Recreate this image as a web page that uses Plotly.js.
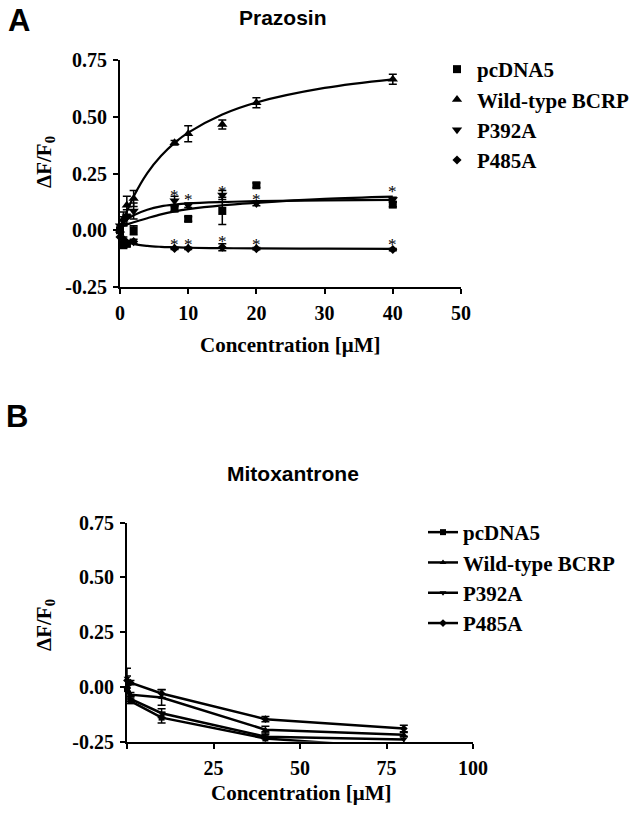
<!DOCTYPE html>
<html>
<head>
<meta charset="utf-8">
<script src="https://cdn.plot.ly/plotly-3.0.1.min.js"></script>
<style>html,body{margin:0;padding:0;background:#fff;}#chart{width:640px;height:815px;}</style>
</head>
<body>
<div id="chart"></div>
<script>
// ---------- Panel A: Prazosin ----------
const seriesNames = ["pcDNA5", "Wild-type BCRP", "P392A", "P485A"];
const concA = [0, 0.5, 1, 2, 8, 10, 15, 20, 40];
const pcdna5A = [0.0, -0.066, -0.06, 0.0, 0.095, 0.05, 0.085, 0.198, 0.113];
const pcdna5AErr = [0.01, 0.01, 0.01, 0.02, 0.01, 0.01, 0.06, 0.01, 0.01];
const wildA = [0.0, 0.05, 0.11, 0.14, 0.385, 0.425, 0.466, 0.562, 0.665];
const wildAErr = [0.01, 0.03, 0.04, 0.035, 0.01, 0.035, 0.02, 0.022, 0.022];
const p392A_A = [0.02, 0.04, 0.06, 0.085, 0.13, 0.11, 0.155, 0.118, 0.135];
const p392A_AErr = [0.01, 0.02, 0.03, 0.035, 0.02, 0.01, 0.02, 0.01, 0.01];
const p485A_A = [-0.03, -0.04, -0.055, -0.05, -0.08, -0.08, -0.075, -0.081, -0.085];
const p485A_AErr = [0.01, 0.01, 0.01, 0.01, 0.005, 0.005, 0.015, 0.005, 0.005];

// fitted curves
const fitX = [0, 0.5, 1, 2, 4, 6, 8, 10, 15, 20, 30, 40];
const fitWild = [0, 0.043, 0.082, 0.149, 0.252, 0.327, 0.385, 0.430, 0.510, 0.563, 0.627, 0.665];
const fitPcdna5 = [0.015, 0.02, 0.025, 0.035, 0.053, 0.07, 0.083, 0.093, 0.110, 0.121, 0.138, 0.148];
const fitP392A = [0.02, 0.035, 0.047, 0.066, 0.09, 0.105, 0.113, 0.118, 0.124, 0.128, 0.132, 0.134];
const fitP485A = [-0.02, -0.037, -0.048, -0.06, -0.069, -0.073, -0.075, -0.077, -0.079, -0.08, -0.081, -0.082];

// significance stars
const starX = [8, 10, 15, 20, 40];
const starUpperY = [0.169, 0.152, 0.187, 0.152, 0.187];
const starLowerY = [-0.044, -0.044, -0.03, -0.044, -0.044];

const ticksA_x = [0, 10, 20, 30, 40, 50];
const ticksY = [-0.25, 0.0, 0.25, 0.5, 0.75];
const ticksY_text = ["-0.25", "0.00", "0.25", "0.50", "0.75"];

// ---------- Panel B: Mitoxantrone ----------
const concB = [0, 1, 10, 40, 80];
const pcdna5B = [-0.01, -0.065, -0.14, -0.235, -0.28];
const pcdna5BErr = [0.02, 0.01, 0.025, 0.03, 0.01];
const wildB = [0.0, -0.035, -0.048, -0.195, -0.218];
const wildBErr = [0.02, 0.01, 0.035, 0.015, 0.01];
const p392A_B = [0.04, -0.055, -0.12, -0.227, -0.24];
const p392A_BErr = [0.045, 0.01, 0.02, 0.01, 0.015];
const p485A_B = [0.03, 0.02, -0.03, -0.147, -0.19];
const p485A_BErr = [0.02, 0.01, 0.018, 0.012, 0.015];
const ticksB_x = [0, 25, 50, 75, 100];
const ticksB_text = ["", "25", "50", "75", "100"];

// ---------- styling helpers ----------
const W = 640, H = 815;
const px = v => v / W;
const py = v => 1 - v / H;
const serif = {family: "Liberation Serif, Times New Roman, serif", size: 20, color: "#000", weight: "bold"};
const sans = {family: "Liberation Sans, Arial, sans-serif", color: "#000", weight: "bold"};
const symbols = ["square", "triangle-up", "triangle-down", "diamond"];
const msize = [8, 9, 9, 7];

function errObj(arr) {
  return {type: "data", array: arr, visible: true, color: "#000", thickness: 1.5, width: 4};
}

const traces = [];
const aY = [pcdna5A, wildA, p392A_A, p485A_A];
const aE = [pcdna5AErr, wildAErr, p392A_AErr, p485A_AErr];
const aFit = [fitPcdna5, fitWild, fitP392A, fitP485A];

for (let i = 0; i < 4; i++) {
  traces.push({
    x: fitX, y: aFit[i], xaxis: "x", yaxis: "y", mode: "lines",
    line: {color: "#000", width: 2.2, shape: "spline"},
    showlegend: false, hoverinfo: "skip", cliponaxis: false
  });
}
for (let i = 0; i < 4; i++) {
  traces.push({
    x: concA, y: aY[i], xaxis: "x", yaxis: "y", mode: "markers",
    name: seriesNames[i], legend: "legend",
    marker: {symbol: symbols[i], size: msize[i], color: "#000"},
    error_y: errObj(aE[i]), cliponaxis: false
  });
}

const bY = [pcdna5B, wildB, p392A_B, p485A_B];
const bE = [pcdna5BErr, wildBErr, p392A_BErr, p485A_BErr];
for (let i = 0; i < 4; i++) {
  traces.push({
    x: concB, y: bY[i], xaxis: "x2", yaxis: "y2", mode: "lines+markers",
    name: seriesNames[i], legend: "legend2",
    line: {color: "#000", width: 2.5},
    marker: {symbol: symbols[i], size: 6, color: "#000"},
    error_y: errObj(bE[i]), cliponaxis: false
  });
}

const axisCommon = {
  showline: true, linecolor: "#000", linewidth: 2, ticks: "outside",
  ticklen: 5, tickwidth: 2, tickcolor: "#000", showgrid: false, zeroline: false,
  tickfont: serif, fixedrange: true, ticklabelstandoff: 2
};

const annotations = [];
const starFont = {family: "Liberation Serif, Times New Roman, serif", size: 17, color: "#000000"};
starX.forEach((x, i) => {
  annotations.push({x: x, y: starUpperY[i], xref: "x", yref: "y", text: "*", showarrow: false,
    xanchor: "center", yanchor: "middle", font: starFont, yshift: -4});
  annotations.push({x: x, y: starLowerY[i], xref: "x", yref: "y", text: "*", showarrow: false,
    xanchor: "center", yanchor: "middle", font: starFont, yshift: -4});
});
function label(x, y, text, font, extra) {
  return Object.assign({x: px(x), y: py(y), xref: "paper", yref: "paper", text: text,
    showarrow: false, xanchor: "center", yanchor: "middle", font: font}, extra || {});
}
annotations.push(
  label(19, 21, "A", Object.assign({}, sans, {size: 31})),
  label(17, 416, "B", Object.assign({}, sans, {size: 31})),
  label(283, 18, "Prazosin", Object.assign({}, sans, {size: 21})),
  label(293, 473, "Mitoxantrone", Object.assign({}, sans, {size: 21})),
  label(45, 162, "ΔF/F<sub>0</sub>", Object.assign({}, serif, {size: 21}), {textangle: -90}),
  label(45, 625, "ΔF/F<sub>0</sub>", Object.assign({}, serif, {size: 21}), {textangle: -90}),
  label(290, 345, "Concentration [μM]", Object.assign({}, serif, {size: 21})),
  label(301, 793, "Concentration [μM]", Object.assign({}, serif, {size: 21}))
);

const layout = {
  width: W, height: H,
  margin: {l: 0, r: 0, t: 0, b: 0},
  paper_bgcolor: "#fff", plot_bgcolor: "#fff",
  showlegend: true,
  xaxis: Object.assign({}, axisCommon, {domain: [px(120), px(461)], range: [0, 50], tickvals: ticksA_x, anchor: "y"}),
  yaxis: Object.assign({}, axisCommon, {domain: [py(287), py(60)], range: [-0.25, 0.75], tickvals: ticksY, ticktext: ticksY_text, anchor: "x"}),
  xaxis2: Object.assign({}, axisCommon, {domain: [px(127), px(473)], range: [0, 100], tickvals: ticksB_x, ticktext: ticksB_text, anchor: "y2"}),
  yaxis2: Object.assign({}, axisCommon, {domain: [py(741.7), py(522.7)], range: [-0.25, 0.75], tickvals: ticksY, ticktext: ticksY_text, anchor: "x2"}),
  legend: {x: px(437), y: py(49), xanchor: "left", yanchor: "top", bgcolor: "rgba(0,0,0,0)",
    font: Object.assign({}, serif, {size: 21}), itemsizing: "trace", tracegroupgap: 0},
  legend2: {x: px(423), y: py(512), xanchor: "left", yanchor: "top", bgcolor: "rgba(0,0,0,0)",
    font: Object.assign({}, serif, {size: 21}), itemsizing: "trace", tracegroupgap: 0},
  annotations: annotations
};

Plotly.newPlot("chart", traces, layout, {staticPlot: true, displayModeBar: false});
</script>
</body>
</html>
